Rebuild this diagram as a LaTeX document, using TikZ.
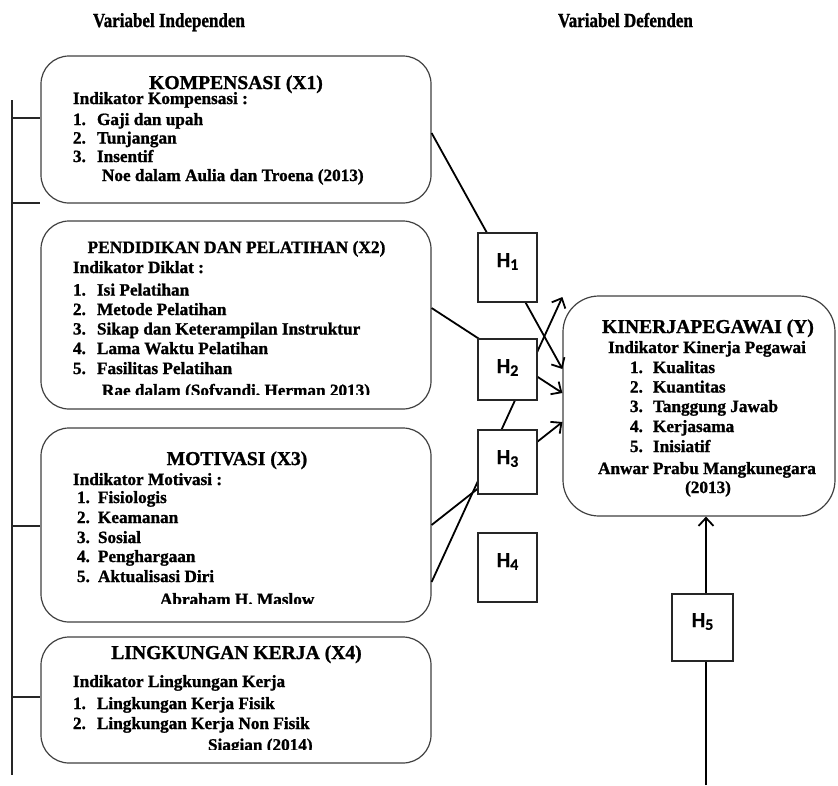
\documentclass[tikz,border=0pt]{standalone}
\usepackage{fontspec}
\setmainfont{Liberation Serif}[BoldFeatures={FakeBold=1.2}]
\newfontfamily\hfont{Carlito}[BoldFeatures={FakeBold=0.6}]
\usetikzlibrary{arrows.meta}
\tikzset{
  xbox/.style={draw=black!75, line width=1.2pt, rounded corners=28pt, fill=white, inner sep=0pt},
  kbox/.style={draw=black!75, line width=1.2pt, rounded corners=36pt, fill=white, inner sep=0pt},
  hbox/.style={draw=black!85, line width=1.2pt, fill=white, inner sep=0pt},
  conn/.style={line width=1.8pt, draw=black},
  arr/.style={conn, -{Straight Barb[length=8pt,width=15pt,line width=1.8pt]}},
  brk/.style={line width=1.3pt, draw=black!85},
  body/.style={inner sep=0pt, outer sep=0pt, font=\bfseries\fontsize{17.2}{19}\selectfont, anchor=base west},
  bodyc/.style={body, anchor=base},
  ttl/.style={inner sep=0pt, outer sep=0pt, font=\bfseries\fontsize{19.6}{20}\selectfont, anchor=base},
  ttls/.style={ttl, font=\bfseries\fontsize{17.4}{20}\selectfont},
  head/.style={inner sep=0pt, outer sep=0pt, font=\bfseries\fontsize{20}{22}\selectfont, anchor=base west},
  hlab/.style={inner sep=0pt, outer sep=0pt, font=\hfont\bfseries\fontsize{21.5}{21}\selectfont, anchor=base},
}
\newcommand{\itm}[3]{\makebox[#1][l]{#2}#3}
\newcommand{\hsub}[1]{H\raisebox{-2.8pt}{\fontsize{16}{16}\selectfont #1}}
\newcommand{\cond}[1]{\scalebox{0.85}[1]{#1}}
\begin{document}
\begin{tikzpicture}[x=1pt,y=-1pt]
\useasboundingbox (0,0) rectangle (838,785);

% headings
\node[head] (hi) at (93,27) {\cond{Variabel Independen}};
\node[head] (hd) at (558,27) {\cond{Variabel Defenden}};

% left bracket
\coordinate (lt) at (12,100);
\coordinate (lb) at (12,775);
\coordinate (t1) at (12,118);
\coordinate (t2) at (12,203);
\coordinate (t3) at (12,526);
\coordinate (t4) at (12,697);
\draw[brk] (lt) -- (lb);

% independent boxes
\node[xbox, minimum width=390pt, minimum height=147pt] (x1) at (236,129.5) {};
\node[xbox, minimum width=390pt, minimum height=188pt] (x2) at (236,315) {};
\node[xbox, minimum width=390pt, minimum height=194pt] (x3) at (236,525) {};
\node[xbox, minimum width=390pt, minimum height=126pt] (x4) at (236,700) {};

\draw[brk] (t1) -- (t1 -| x1.west);
\draw[brk] (t2) -- (t2 -| x1.west);
\draw[brk] (t3) -- (t3 -| x3.west);
\draw[brk] (t4) -- (t4 -| x4.west);

% dependent box
\node[kbox, minimum width=272pt, minimum height=220pt] (k) at (699,406) {};

% connectors
\draw[arr] ([yshift=-3.5pt]x1.east) -- ([yshift=37pt]k.west);
\draw[arr] ([yshift=7pt]x2.east) -- ([yshift=13pt]k.west);
\draw[arr] (x3.east) -- ([yshift=-16pt]k.west);
\draw[arr] ([yshift=-57pt]x3.east) -- ([yshift=109pt]k.west);
\coordinate (bot) at (706,785);
\draw[arr] (bot) -- (bot |- k.south);

% hypothesis boxes
\node[hbox, minimum width=59pt, minimum height=69pt] (h1) at (507.5,267.5) {};
\node[hbox, minimum width=59pt, minimum height=61pt] (h2) at (507.5,369.5) {};
\node[hbox, minimum width=59pt, minimum height=64pt] (h3) at (507.5,462) {};
\node[hbox, minimum width=59pt, minimum height=69pt] (h4) at (507.5,567.5) {};
\node[hbox, minimum width=61pt, minimum height=67pt] (h5) at (702.5,627.5) {};
\node[hlab] (h1t) at (507.5,267) {\hsub{1}};
\node[hlab] (h2t) at (507.5,373) {\hsub{2}};
\node[hlab] (h3t) at (507.5,464) {\hsub{3}};
\node[hlab] (h4t) at (507.5,567) {\hsub{4}};
\node[hlab] (h5t) at (702.5,627) {\hsub{5}};

% X1 text
\node[ttl] (x1a) at (236,89) {KOMPENSASI (X1)};
\node[body] (x1b) at (73,104) {Indikator Kompensasi :};
\node[body] (x1c) at (73,125) {\itm{24pt}{1.}{Gaji dan upah}};
\node[body] (x1d) at (73,143.5) {\itm{24pt}{2.}{Tunjangan}};
\node[body] (x1e) at (73,162) {\itm{24pt}{3.}{Insentif}};
\node[body] (x1f) at (102,181) {Noe dalam Aulia dan Troena (2013)};

% X2 text
\node[ttls] (x2a) at (236.5,253) {PENDIDIKAN DAN PELATIHAN (X2)};
\node[body] (x2b) at (73,273) {Indikator Diklat :};
\node[body] (x2c) at (73,295.5) {\itm{24pt}{1.}{Isi Pelatihan}};
\node[body] (x2d) at (73,315) {\itm{24pt}{2.}{Metode Pelatihan}};
\node[body] (x2e) at (73,334.5) {\itm{24pt}{3.}{Sikap dan Keterampilan Instruktur}};
\node[body] (x2f) at (73,354) {\itm{24pt}{4.}{Lama Waktu Pelatihan}};
\node[body] (x2g) at (73,374) {\itm{24pt}{5.}{Fasilitas Pelatihan}};
\begin{scope}
\clip (0,0) rectangle (838,394);
\node[body] (x2h) at (102,396) {Rae dalam (Sofyandi, Herman 2013)};
\end{scope}

% X3 text
\node[ttl] (x3a) at (237,465) {MOTIVASI (X3)};
\node[body] (x3b) at (73,485) {Indikator Motivasi :};
\node[body] (x3c) at (77,503) {\itm{21pt}{1.}{Fisiologis}};
\node[body] (x3d) at (77,523) {\itm{21pt}{2.}{Keamanan}};
\node[body] (x3e) at (77,543) {\itm{21pt}{3.}{Sosial}};
\node[body] (x3f) at (77,562) {\itm{21pt}{4.}{Penghargaan}};
\node[body] (x3g) at (77,582) {\itm{21pt}{5.}{Aktualisasi Diri}};
\begin{scope}
\clip (0,0) rectangle (838,603);
\node[body] (x3h) at (160,605) {Abraham H. Maslow};
\end{scope}

% X4 text
\node[ttl] (x4a) at (236.5,659) {LINGKUNGAN KERJA (X4)};
\node[body] (x4b) at (73,687) {Indikator Lingkungan Kerja};
\node[body] (x4c) at (73,709) {\itm{24pt}{1.}{Lingkungan Kerja Fisik}};
\node[body] (x4d) at (73,729) {\itm{24pt}{2.}{Lingkungan Kerja Non Fisik}};
\begin{scope}
\clip (0,0) rectangle (838,749);
\node[body] (x4e) at (208,750.5) {Siagian (2014)};
\end{scope}

% Y text
\node[ttl] (ka) at (708,333) {KINERJAPEGAWAI (Y)};
\node[bodyc] (kb) at (707,353) {Indikator Kinerja Pegawai};
\node[body] (kc) at (630,373) {\itm{23pt}{1.}{Kualitas}};
\node[body] (kd) at (630,392.5) {\itm{23pt}{2.}{Kuantitas}};
\node[body] (ke) at (630,412) {\itm{23pt}{3.}{Tanggung Jawab}};
\node[body] (kf) at (630,432) {\itm{23pt}{4.}{Kerjasama}};
\node[body] (kg) at (630,452) {\itm{23pt}{5.}{Inisiatif}};
\node[bodyc] (kh) at (707,474) {Anwar Prabu Mangkunegara};
\node[bodyc] (ki) at (708,493) {(2013)};
\end{tikzpicture}
\end{document}
